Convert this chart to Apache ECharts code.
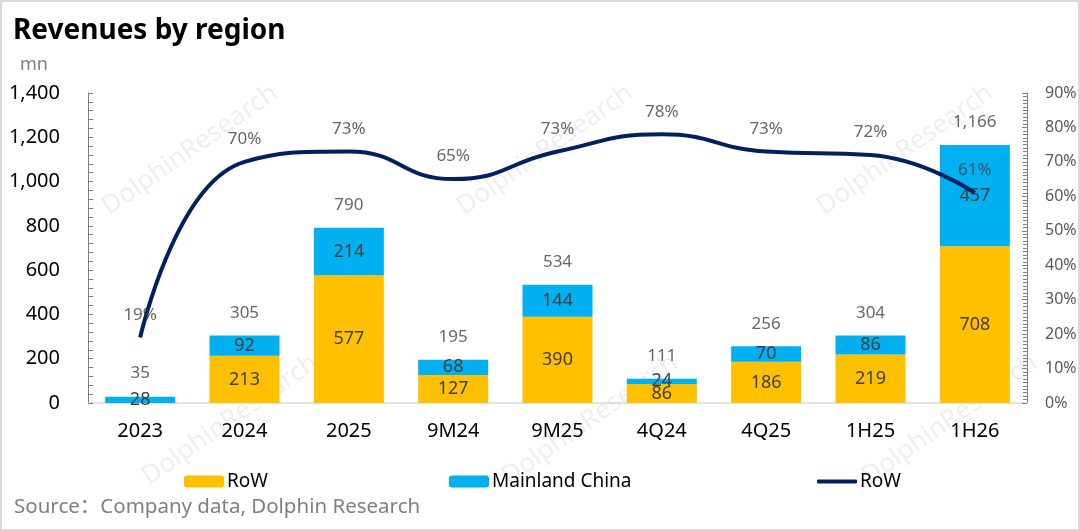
<!DOCTYPE html>
<html>
<head>
<meta charset="utf-8">
<script src="https://cdn.jsdelivr.net/npm/echarts@6/dist/echarts.min.js"></script>
<style>
  html, body { margin: 0; padding: 0; background: #fff; }
  #main { width: 1080px; height: 531px; }
</style>
</head>
<body>
<div id="main"></div>
<script>
// 数据
var categories = ['2023', '2024', '2025', '9M24', '9M25', '4Q24', '4Q25', '1H25', '1H26'];
var rowValues = [null, 213, 577, 127, 390, 86, 186, 219, 708];
var chinaValues = [28, 92, 214, 68, 144, 24, 70, 86, 457];
var totalValues = [35, 305, 790, 195, 534, 111, 256, 304, 1166];
var rowShare = [19, 70, 73, 65, 73, 78, 73, 72, 61];

var FONT = '"Noto Sans", "Noto Sans CJK SC", sans-serif';
var chart = echarts.init(document.getElementById('main'));

function fmt(v) {
    return Number(v).toLocaleString('en-US');
}

// 水印
var marks = [[190, 150], [545, 150], [905, 150], [230, 420], [590, 420], [950, 420]];
var graphics = [{
    type: 'rect', silent: true, z: -10,
    shape: {x: 1, y: 1, width: 1078, height: 529},
    style: {fill: '#fff', stroke: '#d9d9d9', lineWidth: 2}
}];
marks.forEach(function (m) {
    graphics.push({
        type: 'text', silent: true, z: -5,
        x: m[0], y: m[1], rotation: 35 * Math.PI / 180,
        style: {
            text: 'DolphinResearch', fill: 'rgba(0,0,0,0.07)',
            font: '26px ' + FONT, align: 'center', verticalAlign: 'middle'
        }
    });
});
graphics.push({
    type: 'text', left: 20, top: 56,
    style: {text: 'mn', fill: '#7f7f7f', font: '18px ' + FONT}
});
graphics.push({
    type: 'text', left: 14, top: 497,
    style: {text: 'Source：Company data, Dolphin Research', fill: '#7f7f7f', font: '20.5px ' + FONT}
});

function legendAt(left, name, extra) {
    return Object.assign({
        left: left,
        top: 472,
        padding: 0,
        itemWidth: 40,
        itemHeight: 12,
        textStyle: {fontSize: 19, color: '#000', padding: [0, 0, 0, -2]},
        formatter: function (n) {
            return n === 'RoW share' ? 'RoW' : n;
        },
        data: [name]
    }, extra || {});
}

var option = {
    animation: false,
    textStyle: {fontFamily: FONT},
    title: {
        text: 'Revenues by region',
        left: 8,
        top: 12,
        textStyle: {fontSize: 28, fontWeight: 'bold', color: '#000', fontFamily: FONT}
    },
    graphic: graphics,
    legend: [
        legendAt(184, 'RoW'),
        legendAt(449, 'Mainland China'),
        legendAt(817, {name: 'RoW share', icon: 'roundRect'}, {itemHeight: 4, top: 472})
    ],
    grid: {left: 88, right: 53, top: 93, bottom: 128},
    xAxis: {
        type: 'category',
        data: categories,
        axisTick: {show: false},
        axisLine: {lineStyle: {color: '#d9d9d9', width: 1.5}},
        axisLabel: {fontSize: 20, color: '#000', margin: 18}
    },
    yAxis: [
        {
            type: 'value',
            min: 0,
            max: 1400,
            interval: 200,
            splitLine: {show: false},
            axisLine: {show: true, lineStyle: {color: '#7f7f7f'}},
            axisTick: {show: true, inside: true, length: 5, lineStyle: {color: '#7f7f7f'}},
            minorTick: {show: true, splitNumber: 5, length: 5, lineStyle: {color: '#7f7f7f'}},
            axisLabel: {fontSize: 20, color: '#000', margin: 28, formatter: fmt}
        },
        {
            type: 'value',
            min: 0,
            max: 90,
            interval: 10,
            position: 'right',
            splitLine: {show: false},
            axisLine: {show: true, lineStyle: {color: '#7f7f7f'}},
            axisTick: {show: true, inside: true, length: 5, lineStyle: {color: '#7f7f7f'}},
            minorTick: {show: true, splitNumber: 10, length: 4, lineStyle: {color: '#7f7f7f'}},
            axisLabel: {fontSize: 16, color: '#595959', margin: 18, formatter: '{value}%'}
        }
    ],
    series: [
        {
            name: 'RoW',
            type: 'bar',
            stack: 'rev',
            barWidth: 70,
            data: rowValues,
            itemStyle: {color: '#ffc000'},
            label: {show: true, position: 'inside', fontSize: 18, color: '#404040'}
        },
        {
            name: 'Mainland China',
            type: 'bar',
            stack: 'rev',
            barWidth: 70,
            data: chinaValues,
            itemStyle: {color: '#00b0f0'},
            label: {show: true, position: 'inside', fontSize: 18, color: '#404040'}
        },
        {
            name: 'Total',
            type: 'scatter',
            data: totalValues,
            symbolSize: 0,
            silent: true,
            label: {
                show: true, position: 'top', distance: 14, fontSize: 17, color: '#404040',
                formatter: function (p) { return fmt(p.value); }
            }
        },
        {
            name: 'RoW share',
            type: 'line',
            yAxisIndex: 1,
            data: rowShare,
            smooth: 0.5,
            symbol: 'none',
            lineStyle: {color: '#002060', width: 4},
            itemStyle: {color: '#002060'}
        },
        {
            name: 'Share label',
            type: 'scatter',
            yAxisIndex: 1,
            data: rowShare,
            symbolSize: 0,
            silent: true,
            z: 5,
            label: {show: true, position: 'top', distance: 14, fontSize: 17, color: '#404040', formatter: '{c}%'}
        }
    ]
};
option && chart.setOption(option);
</script>
</body>
</html>
